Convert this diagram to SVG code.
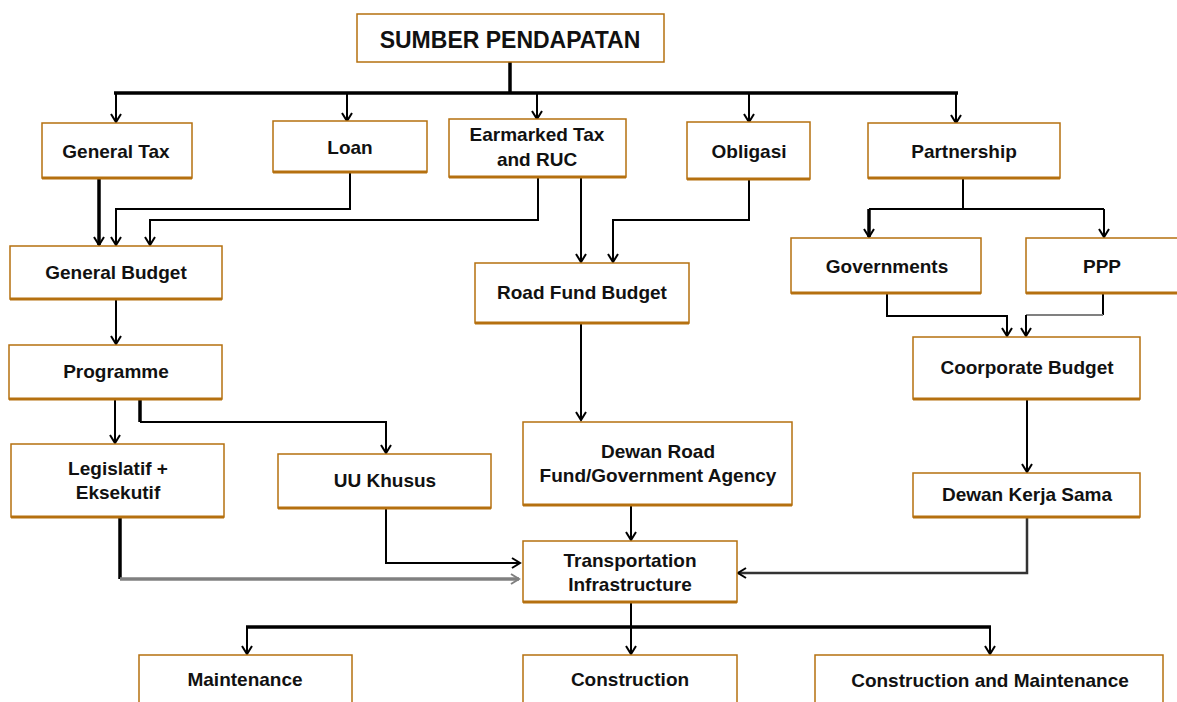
<svg xmlns="http://www.w3.org/2000/svg" width="1177" height="702" viewBox="0 0 1177 702">
<style>
.b{fill:#fff;stroke:#b5700f;stroke-width:1.5}
.s{stroke:#b5700f;stroke-width:3}
.t{font-family:"Liberation Sans",Arial,sans-serif;font-weight:bold;font-size:19px;fill:#111;text-anchor:middle}
.c{fill:none;stroke:#000;stroke-width:2}
.k{stroke-width:3.5}
.g{stroke:#808080}
</style>
<defs>
<marker id="a" viewBox="-10 -6 12 12" refX="0" refY="0" markerWidth="12" markerHeight="12" markerUnits="userSpaceOnUse" orient="auto"><path d="M-8,-5 L0,0 L-8,5" fill="none" stroke="#000" stroke-width="2"/></marker>
<marker id="ag" viewBox="-10 -6 12 12" refX="0" refY="0" markerWidth="12" markerHeight="12" markerUnits="userSpaceOnUse" orient="auto"><path d="M-8,-5 L0,0 L-8,5" fill="none" stroke="#808080" stroke-width="2"/></marker>
</defs>
<rect width="1177" height="702" fill="#fff"/>
<g id="connectors">
<path class="c k" d="M510,62 V93"/>
<path class="c k" d="M114,93 H958"/>
<path class="c" d="M116,93 V122" marker-end="url(#a)"/>
<path class="c" d="M347,93 V121" marker-end="url(#a)"/>
<path class="c" d="M537,93 V119" marker-end="url(#a)"/>
<path class="c" d="M749,93 V122" marker-end="url(#a)"/>
<path class="c" d="M956,93 V123" marker-end="url(#a)"/>
<path class="c k" d="M99,178 V245" marker-end="url(#a)"/>
<path class="c" d="M350,172 V209 H116 V245" marker-end="url(#a)"/>
<path class="c" d="M538,177 V220 H150 V245" marker-end="url(#a)"/>
<path class="c" d="M581,177 V262" marker-end="url(#a)"/>
<path class="c" d="M749,179 V220 H613 V262" marker-end="url(#a)"/>
<path class="c" d="M116,299 V344" marker-end="url(#a)"/>
<path class="c" d="M115,399 V443" marker-end="url(#a)"/>
<path class="c k" d="M140,399 V422"/>
<path class="c" d="M140,422 H386 V453" marker-end="url(#a)"/>
<path class="c k" d="M120,517 V579"/>
<path class="c k g" d="M120,579 H519" marker-end="url(#ag)"/>
<path class="c" d="M386,508 V563 H520" marker-end="url(#a)"/>
<path class="c" d="M581,323 V420" marker-end="url(#a)"/>
<path class="c" d="M631,505 V540" marker-end="url(#a)"/>
<path class="c" d="M1027,517 V573 H738" marker-end="url(#a)" style="stroke:#333;stroke-width:2.5"/>
<path class="c" d="M963,178 V209"/>
<path class="c" d="M869,209 H1104"/>
<path class="c k" d="M869,209 V237" marker-end="url(#a)"/>
<path class="c" d="M1104,209 V237" marker-end="url(#a)"/>
<path class="c" d="M887,293 V316 H1007 V336" marker-end="url(#a)"/>
<path class="c" d="M1103,293 V315"/>
<path class="c g" d="M1103,315 H1026"/>
<path class="c" d="M1026,315 V336" marker-end="url(#a)"/>
<path class="c" d="M1027,399 V472" marker-end="url(#a)"/>
<path class="c" d="M631,602 V654" marker-end="url(#a)"/>
<path class="c k" d="M246,627 H991"/>
<path class="c" d="M247,627 V654" marker-end="url(#a)"/>
<path class="c" d="M990,627 V654" marker-end="url(#a)"/>
</g>
<g id="n-title"><rect class="b" x="357" y="14" width="307" height="48"/><text class="t" x="510" y="48" style="font-size:23px">SUMBER PENDAPATAN</text></g>
<g id="n-generaltax"><rect class="b" x="42" y="123" width="150" height="55"/><line class="s" x1="42" y1="178" x2="192" y2="178"/><text class="t" x="116" y="158">General Tax</text></g>
<g id="n-loan"><rect class="b" x="273" y="121" width="154" height="51"/><line class="s" x1="273" y1="172" x2="427" y2="172"/><text class="t" x="350" y="154">Loan</text></g>
<g id="n-earmarked"><rect class="b" x="449" y="119" width="177" height="58"/><line class="s" x1="449" y1="177" x2="626" y2="177"/><text class="t" x="537" y="141">Earmarked Tax</text><text class="t" x="537" y="166">and RUC</text></g>
<g id="n-obligasi"><rect class="b" x="687" y="122" width="123" height="57"/><line class="s" x1="687" y1="179" x2="810" y2="179"/><text class="t" x="749" y="158">Obligasi</text></g>
<g id="n-partnership"><rect class="b" x="868" y="123" width="192" height="55"/><line class="s" x1="868" y1="178" x2="1060" y2="178"/><text class="t" x="964" y="158">Partnership</text></g>
<g id="n-generalbudget"><rect class="b" x="10" y="246" width="212" height="53"/><line class="s" x1="10" y1="299" x2="222" y2="299"/><text class="t" x="116" y="279">General Budget</text></g>
<g id="n-roadfund"><rect class="b" x="475" y="263" width="214" height="60"/><line class="s" x1="475" y1="323" x2="689" y2="323"/><text class="t" x="582" y="299">Road Fund Budget</text></g>
<g id="n-governments"><rect class="b" x="791" y="238" width="190" height="55"/><line class="s" x1="791" y1="293" x2="981" y2="293"/><text class="t" x="887" y="273">Governments</text></g>
<g id="n-ppp"><rect class="b" x="1026" y="238" width="155" height="55"/><line class="s" x1="1026" y1="293" x2="1177" y2="293"/><text class="t" x="1102" y="273">PPP</text></g>
<g id="n-coorporate"><rect class="b" x="913" y="337" width="227" height="62"/><line class="s" x1="913" y1="399" x2="1140" y2="399"/><text class="t" x="1027" y="374">Coorporate Budget</text></g>
<g id="n-programme"><rect class="b" x="9" y="345" width="213" height="54"/><line class="s" x1="9" y1="399" x2="222" y2="399"/><text class="t" x="116" y="378">Programme</text></g>
<g id="n-legislatif"><rect class="b" x="11" y="444" width="213" height="73"/><line class="s" x1="11" y1="517" x2="224" y2="517"/><text class="t" x="118" y="475">Legislatif +</text><text class="t" x="118" y="499">Eksekutif</text></g>
<g id="n-uu"><rect class="b" x="278" y="454" width="213" height="54"/><line class="s" x1="278" y1="508" x2="491" y2="508"/><text class="t" x="385" y="487">UU Khusus</text></g>
<g id="n-dewanroad"><rect class="b" x="523" y="422" width="269" height="83"/><line class="s" x1="523" y1="505" x2="792" y2="505"/><text class="t" x="658" y="458">Dewan Road</text><text class="t" x="658" y="482">Fund/Government Agency</text></g>
<g id="n-dewankerja"><rect class="b" x="913" y="473" width="227" height="44"/><line class="s" x1="913" y1="517" x2="1140" y2="517"/><text class="t" x="1027" y="501">Dewan Kerja Sama</text></g>
<g id="n-transport"><rect class="b" x="523" y="541" width="214" height="61"/><line class="s" x1="523" y1="602" x2="737" y2="602"/><text class="t" x="630" y="567">Transportation</text><text class="t" x="630" y="591">Infrastructure</text></g>
<g id="n-maintenance"><rect class="b" x="139" y="655" width="213" height="60"/><text class="t" x="245" y="686">Maintenance</text></g>
<g id="n-construction"><rect class="b" x="523" y="655" width="214" height="60"/><text class="t" x="630" y="686">Construction</text></g>
<g id="n-consmaint"><rect class="b" x="815" y="655" width="348" height="60"/><text class="t" x="990" y="687">Construction and Maintenance</text></g>
</svg>
